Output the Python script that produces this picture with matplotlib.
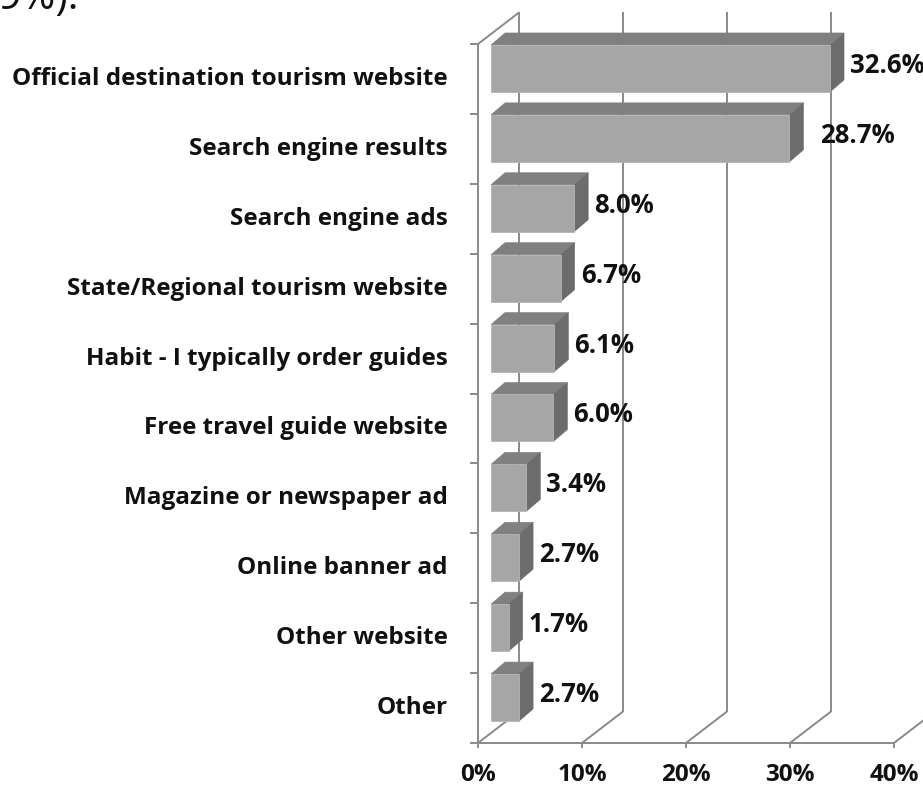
import matplotlib
matplotlib.use("Agg")
import matplotlib.pyplot as plt
from matplotlib.patches import Polygon

categories = [
    "Official destination tourism website",
    "Search engine results",
    "Search engine ads",
    "State/Regional tourism website",
    "Habit - I typically order guides",
    "Free travel guide website",
    "Magazine or newspaper ad",
    "Online banner ad",
    "Other website",
    "Other",
]
values = [32.6, 28.7, 8.0, 6.7, 6.1, 6.0, 3.4, 2.7, 1.7, 2.7]
tick_values = [0, 10, 20, 30, 40]
tick_labels = ["0%", "10%", "20%", "30%", "40%"]

FONT = "Open Sans"
FS_CAT = 17.5
FS_NUM = 18.5
FS_TICK = 17.5
W, H, DPI = 923, 787, 100
fig = plt.figure(figsize=(W / DPI, H / DPI), dpi=DPI)
fig.patch.set_facecolor("white")

# front plane of the 3-D box, in pixels
left_px, right_px, top_px, bottom_px = 478, 894, 44, 743
ax = fig.add_axes([left_px / W, 1 - bottom_px / H,
                   (right_px - left_px) / W, (bottom_px - top_px) / H])
n = len(categories)
xmax = tick_values[-1]
ax.set_xlim(0, xmax)
ax.set_ylim(n, 0)
ax.axis("off")

sx = (right_px - left_px) / xmax      # pixels per percent
sy = (bottom_px - top_px) / n         # pixels per category


def depth(px_x, px_y):
    """Oblique depth shift given in pixels (right, up) -> data units."""
    return px_x / sx, -px_y / sy


grid_c = "#8a8a8a"
grid_lw = 1.4
kw = dict(color=grid_c, lw=grid_lw, clip_on=False, solid_capstyle="butt")

# full box depth
Dx, Dy = depth(41, 31.5)

# back wall gridlines and floor diagonals
for v in tick_values:
    ax.plot([v + Dx, v + Dx], [n + Dy, Dy], zorder=1, **kw)
    ax.plot([v, v + Dx], [n, n + Dy], zorder=1, **kw)
    # tick below the front floor edge
    ax.plot([v, v], [n, n + 5 / sy], zorder=1, **kw)

# left wall and front floor edge
ax.plot([0, 0], [0, n], zorder=1, **kw)
ax.plot([0, Dx], [0, Dy], zorder=1, **kw)
ax.plot([0, xmax], [n, n], zorder=1, **kw)
for k in range(n + 1):
    ax.plot([-8 / sx, 0], [k, k], zorder=1, **kw)

# bars
front_c, top_c, side_c = "#a6a6a6", "#808080", "#6c6c6c"
bar_h = 47 / sy
fx, fy = depth(13, 10.5)      # bar front face depth
bx, by = depth(14, 12)        # bar thickness
for i, v in enumerate(values):
    xa = fx
    xb = fx + v
    yc = i + 0.5 + fy
    yt, yb = yc - bar_h / 2, yc + bar_h / 2
    front = Polygon([(xa, yt), (xb, yt), (xb, yb), (xa, yb)], closed=True,
                    facecolor=front_c, edgecolor="#b4b4b4", lw=0.6,
                    zorder=3, clip_on=False)
    top = Polygon([(xa, yt), (xb, yt), (xb + bx, yt + by), (xa + bx, yt + by)],
                  closed=True, facecolor=top_c, edgecolor=top_c, lw=0.4,
                  zorder=3, clip_on=False)
    side = Polygon([(xb, yt), (xb + bx, yt + by), (xb + bx, yb + by), (xb, yb)],
                   closed=True, facecolor=side_c, edgecolor=side_c, lw=0.4,
                   zorder=3, clip_on=False)
    for p in (top, side, front):
        ax.add_patch(p)

    nudge = 31 if i == 1 else 20
    ax.text(xb + nudge / sx, yc - 3 / sy, f"{v:.1f}%", ha="left", va="center",
            fontsize=FS_NUM, fontweight="bold", family=FONT, color="#111111",
            zorder=5, clip_on=False)

# category labels
for i, name in enumerate(categories):
    ax.text(-30 / sx, i + 0.5, name, ha="right", va="center",
            fontsize=FS_CAT, fontweight="bold", family=FONT, color="#111111",
            clip_on=False)

# value axis labels
for v, lab in zip(tick_values, tick_labels):
    ax.text(v, n + 38 / sy, lab, ha="center", va="baseline",
            fontsize=FS_TICK, fontweight="bold", family=FONT, color="#111111",
            clip_on=False)

# tail of the sentence above the chart
fig.text(-2 / W, 1 - 9 / H, "9%).", ha="left", va="baseline",
         fontsize=30, family=FONT, color="#111111")

fig.savefig("out.png", dpi=DPI, facecolor="white")
